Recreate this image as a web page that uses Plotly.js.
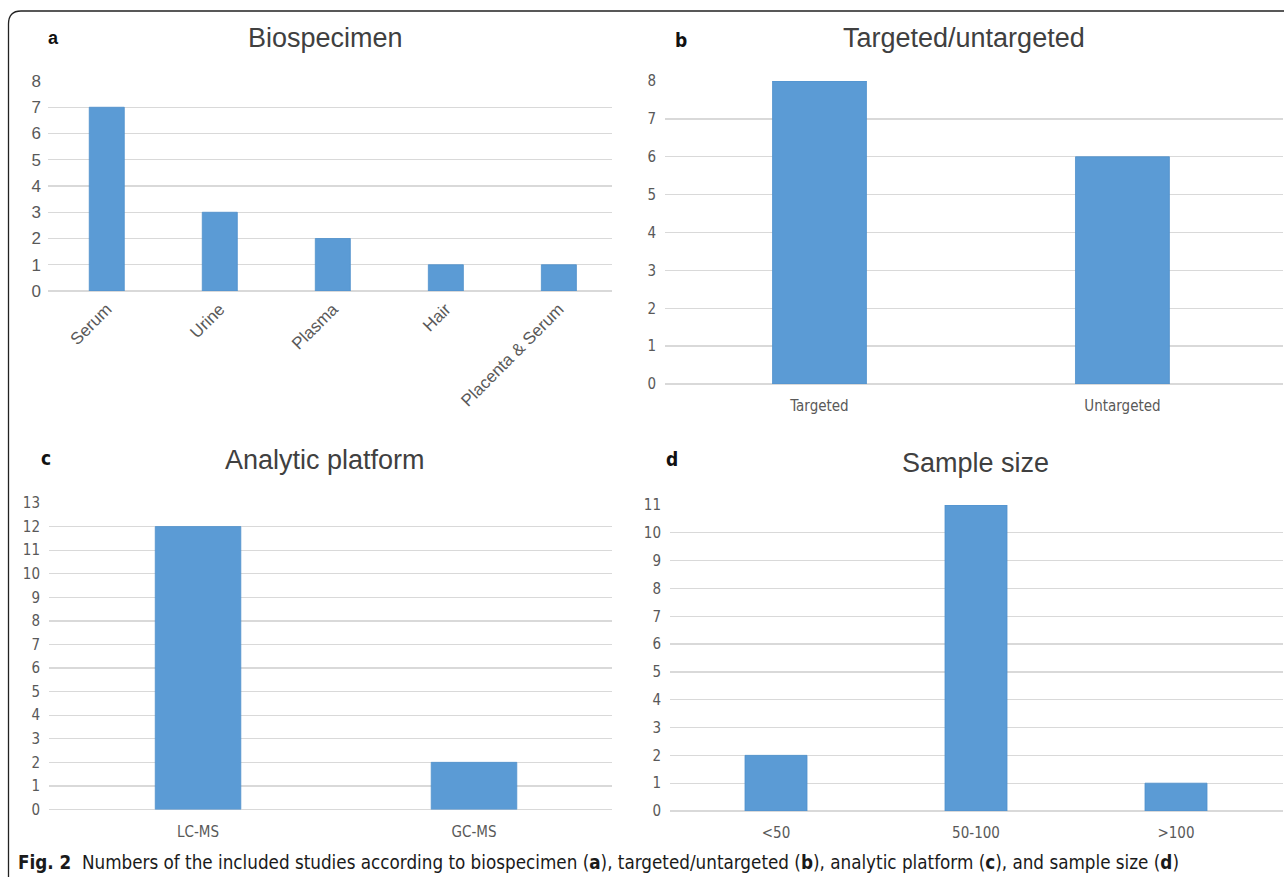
<!DOCTYPE html>
<html>
<head>
<meta charset="utf-8">
<script src="https://cdn.plot.ly/plotly-3.0.1.min.js"></script>
<style>
html,body{margin:0;padding:0;background:#fff;}
#chart{width:1284px;height:877px;}
</style>
</head>
<body>
<div id="chart"></div>
<script>
// ---- data ----
const bioCategories = ["Serum", "Urine", "Plasma", "Hair", "Placenta & Serum"];
const bioValues = [7, 3, 2, 1, 1];

const targetCategories = ["Targeted", "Untargeted"];
const targetValues = [8, 6];

const platformCategories = ["LC-MS", "GC-MS"];
const platformValues = [12, 2];

const sizeCategories = ["<50", "50-100", ">100"];
const sizeValues = [2, 11, 1];

const panelTitles = ["Biospecimen", "Targeted/untargeted", "Analytic platform", "Sample size"];
const panelLetters = ["a", "b", "c", "d"];
const captionBold = "Fig. 2";
const captionText = "Numbers of the included studies according to biospecimen (<b>a</b>), targeted/untargeted (<b>b</b>), analytic platform (<b>c</b>), and sample size (<b>d</b>)";

// ---- helpers ----
const W = 1284, H = 877;
const px = v => v / W;
const py = v => 1 - v / H;
const BAR = "#5b9bd5";
const GRID = "#d9d9d9";
const TICK = "#595959";
const ARIAL = "Liberation Sans, Arial, sans-serif";
const NARROW = "DejaVu Sans Condensed, Liberation Sans, sans-serif";

function bar(cats, vals, xa, ya) {
  return {
    type: "bar", x: cats, y: vals, xaxis: xa, yaxis: ya,
    width: 0.31,
    marker: {color: BAR, line: {color: "#4f90cc", width: 0.8}},
    hoverinfo: "x+y", showlegend: false
  };
}

const data = [
  bar(bioCategories, bioValues, "x", "y"),
  bar(targetCategories, targetValues, "x2", "y2"),
  bar(platformCategories, platformValues, "x3", "y3"),
  bar(sizeCategories, sizeValues, "x4", "y4")
];

function xax(domain, range, font, extra) {
  return Object.assign({
    domain: domain, range: range, type: "category",
    showgrid: false, zeroline: false, showline: false, ticks: "",
    tickfont: font, fixedrange: true
  }, extra || {});
}
function yax(domain, range, font, anchor, standoff) {
  return {
    domain: domain, range: range, dtick: 1, tick0: 0,
    showgrid: true, gridcolor: GRID, gridwidth: 1.3,
    zeroline: true, zerolinecolor: GRID, zerolinewidth: 1.3,
    showline: false, ticks: "", tickfont: font, anchor: anchor,
    ticklabelstandoff: standoff, fixedrange: true
  };
}

const fontA = {family: ARIAL, size: 17, color: TICK};
const fontN = {family: NARROW, size: 15, color: TICK};

const layout = {
  width: W, height: H,
  margin: {l: 0, r: 0, t: 0, b: 0},
  paper_bgcolor: "#fff", plot_bgcolor: "rgba(0,0,0,0)",
  showlegend: false,
  bargap: 0,
  xaxis: xax([px(48), px(612)], [-0.52, 4.47], {family: ARIAL, size: 17, color: TICK}, {tickangle: -45, anchor: "y", ticklabelstandoff: 4}),
  yaxis: yax([py(291), py(81)], [0, 8], fontA, "x", 6),
  xaxis2: xax([px(665), px(1283)], [-0.51, 1.53], fontN, {anchor: "y2", ticklabelstandoff: 11}),
  yaxis2: yax([py(384), py(81)], [0, 8], fontN, "x2", 8),
  xaxis3: xax([px(49), px(612)], [-0.54, 1.5], fontN, {anchor: "y3", ticklabelstandoff: 11}),
  yaxis3: yax([py(809.5), py(503)], [0, 13], fontN, "x3", 8),
  xaxis4: xax([px(670), px(1283)], [-0.53, 2.535], fontN, {anchor: "y4", ticklabelstandoff: 11}),
  yaxis4: yax([py(811), py(505)], [0, 11], fontN, "x4", 8),
  annotations: [
    {text: panelTitles[0], x: px(326), y: py(38), xref: "paper", yref: "paper", showarrow: false, xanchor: "center", yanchor: "middle", font: {family: ARIAL, size: 27, color: "#404040"}},
    {text: panelTitles[1], x: px(964), y: py(38), xref: "paper", yref: "paper", showarrow: false, xanchor: "center", yanchor: "middle", font: {family: ARIAL, size: 27, color: "#404040"}},
    {text: panelTitles[2], x: px(325), y: py(460), xref: "paper", yref: "paper", showarrow: false, xanchor: "center", yanchor: "middle", font: {family: ARIAL, size: 27, color: "#404040"}},
    {text: panelTitles[3], x: px(975), y: py(463), xref: "paper", yref: "paper", showarrow: false, xanchor: "center", yanchor: "middle", font: {family: ARIAL, size: 27, color: "#404040"}},
    {text: "<b>" + panelLetters[0] + "</b>", x: px(53), y: py(38), xref: "paper", yref: "paper", showarrow: false, xanchor: "center", yanchor: "middle", font: {family: ARIAL, size: 18, color: "#111"}},
    {text: "<b>" + panelLetters[1] + "</b>", x: px(681), y: py(40), xref: "paper", yref: "paper", showarrow: false, xanchor: "center", yanchor: "middle", font: {family: NARROW, size: 19, color: "#111"}},
    {text: "<b>" + panelLetters[2] + "</b>", x: px(46), y: py(458), xref: "paper", yref: "paper", showarrow: false, xanchor: "center", yanchor: "middle", font: {family: NARROW, size: 19, color: "#111"}},
    {text: "<b>" + panelLetters[3] + "</b>", x: px(672), y: py(459), xref: "paper", yref: "paper", showarrow: false, xanchor: "center", yanchor: "middle", font: {family: NARROW, size: 19, color: "#111"}},
    {text: "<b>" + captionBold + "</b>  " + captionText, x: px(16), y: py(862), xref: "paper", yref: "paper", showarrow: false, xanchor: "left", yanchor: "middle", font: {family: NARROW, size: 18.7, color: "#1a1a1a"}}
  ],
  shapes: [
    {type: "path", xref: "paper", yref: "paper",
     path: "M " + px(8.5) + " 0 L " + px(8.5) + " " + py(24) + " Q " + px(8.5) + " " + py(11) + " " + px(21) + " " + py(11) + " L 1 " + py(11),
     line: {color: "#222", width: 1.3}}
  ]
};

Plotly.newPlot("chart", data, layout, {displayModeBar: false, staticPlot: true});
</script>
</body>
</html>
